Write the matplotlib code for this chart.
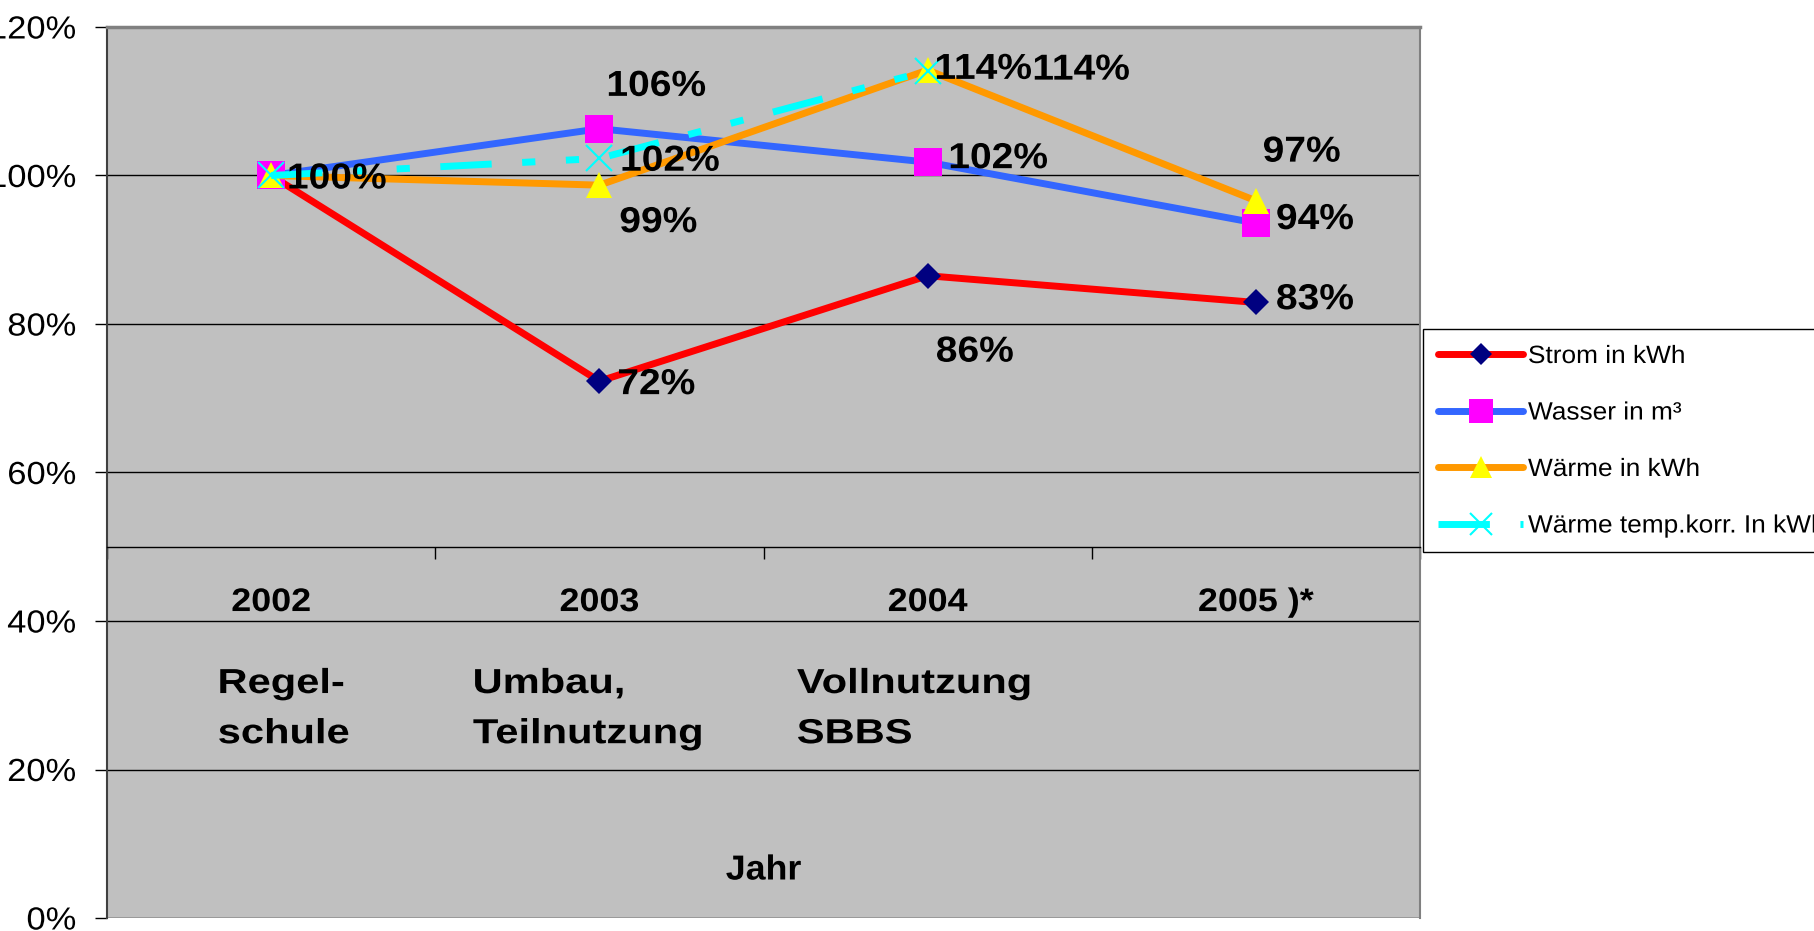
import numpy as np
import matplotlib
matplotlib.use('Agg')
import matplotlib.pyplot as plt
from matplotlib.patheffects import AbstractPathEffect
from matplotlib.transforms import Affine2D

# ---------------- data ----------------
years = ['2002', '2003', '2004', '2005 )*']
phases = ['Regel-\nschule', 'Umbau,\nTeilnutzung', 'Vollnutzung\nSBBS', '']
strom = [100, 72.3, 86.5, 82.9]
wasser = [100, 106.3, 101.8, 93.6]
waerme = [100, 98.7, 114.2, 96.6]
waerme_korr = [100, 102.3, 114.1, np.nan]
series_names = ['Strom in kWh', 'Wasser in m³', 'Wärme in kWh', 'Wärme temp.korr. In kWh']
y_ticks = [0, 20, 40, 60, 80, 100, 120]
x_title = 'Jahr'


# --------- helper: widen glyph runs (mimics the wide character spacing) ---------
class Stretch(AbstractPathEffect):
    def __init__(self, sx, anchor='left'):
        super().__init__()
        self.sx = sx
        self.anchor = anchor

    def draw_path(self, renderer, gc, tpath, affine, rgbFace=None):
        ext = tpath.get_extents()
        if self.anchor == 'left':
            cx = ext.x0
        elif self.anchor == 'right':
            cx = ext.x1
        else:
            cx = 0.5 * (ext.x0 + ext.x1)
        t = Affine2D().translate(-cx, 0).scale(self.sx, 1).translate(cx, 0) + affine
        renderer.draw_path(gc, tpath, t, rgbFace)


# ---------------- style ----------------
plt.rcParams['font.family'] = ['Liberation Sans', 'DejaVu Sans']
plt.rcParams['lines.scale_dashes'] = False

W, H = 1814, 931
fig = plt.figure(figsize=(W / 100, H / 100), dpi=100)
ax = fig.add_axes([107 / W, 1 - 918 / H, (1420 - 107) / W, (918 - 27) / H])
ax.set_facecolor('#C0C0C0')

x = np.arange(len(years))
ax.set_xlim(-0.5, len(years) - 0.5)
ax.set_ylim(0, 120)

series = [strom, wasser, waerme, waerme_korr]
styles = [
    dict(color='#FF0000', marker='D', mfc='#000080', mec='#000080', ms=13.5, mew=0),
    dict(color='#3366FF', marker='s', mfc='#FF00FF', mec='#FF00FF', ms=20, mew=0),
    dict(color='#FF9900', marker='^', mfc='#FFFF00', mec='#FFFF00', ms=19, mew=0),
    dict(color='#00FFFF', marker='x', mfc='#00FFFF', mec='#00FFFF', ms=18.5, mew=1.5,
         dashes=(37, 22, 9.5, 22, 9.5, 22)),
]
lines = []
for vals, st, name in zip(series, styles, series_names):
    ln, = ax.plot(x, vals, lw=5, solid_capstyle='round', solid_joinstyle='round',
                  label=name, zorder=3, **st)
    lines.append(ln)

# data labels: (dx_pt, dy_pt, ha) offsets relative to the point
label_offsets = [
    [(11.5, 0, 'left'), (13, 0, 'left'), (34, -52.5, 'center'), (14.5, 4.5, 'left')],
    [None, (41, 33, 'center'), (15, 5, 'left'), (14.5, 5, 'left')],
    [None, (42.5, -24.5, 'center'), (5, 3, 'left'), (33, 37.5, 'center')],
    [None, (15, 0.5, 'left'), (75.5, 3, 'left'), None],
]
for vals, offs in zip(series, label_offsets):
    for xi, v, off in zip(x, vals, offs):
        if off is None or np.isnan(v):
            continue
        dx, dy, ha = off
        ax.annotate(f'{v:.0f}%', (xi, v), xytext=(dx, dy - 2.5), textcoords='offset points',
                    ha=ha, va='center', fontsize=26, fontweight='bold', color='black', zorder=5,
                    path_effects=[Stretch(1.08, ha)])

# grid & spines
ax.set_yticks(y_ticks)
ax.set_yticklabels([f'{v}%' for v in y_ticks])
ax.yaxis.grid(True, color='black', lw=1)
ax.set_axisbelow(True)
ax.tick_params(axis='y', length=8.6, width=1, color='black', pad=13.5, labelsize=23)
for t in ax.get_yticklabels():
    t.set_path_effects([Stretch(1.08, 'right')])

ax.spines['left'].set_color('#404040')
ax.spines['left'].set_linewidth(1.5)
ax.spines['top'].set_color('#808080')
ax.spines['top'].set_linewidth(2.5)
ax.spines['right'].set_color('#808080')
ax.spines['right'].set_linewidth(1.5)
ax.spines['bottom'].set_position(('data', 50))
ax.spines['bottom'].set_color('black')
ax.spines['bottom'].set_linewidth(1)

ax.set_xticks(np.arange(-0.5, len(years), 1))
ax.set_xticklabels([])
ax.set_xticks(x, minor=True)
ax.set_xticklabels(years, minor=True, fontsize=23.5, fontweight='bold')
ax.tick_params(axis='x', which='major', length=8.6, width=1, direction='out', color='black')
ax.tick_params(axis='x', which='minor', length=0, pad=29)
for t in ax.get_xticklabels(minor=True):
    t.set_path_effects([Stretch(1.1, 'center')])

phase_dx = [-0.162, -0.385, -0.398, 0]
for xi, ph, d in zip(x, phases, phase_dx):
    if ph:
        ax.text(xi + d, 33.8, ph, ha='left', va='top', fontsize=25, fontweight='bold',
                linespacing=1.66, multialignment='left',
                path_effects=[Stretch(1.2, 'left')])

ax.text(0.5, (918 - 870) / (918 - 27), x_title, transform=ax.transAxes, ha='center',
        va='center', fontsize=25, fontweight='bold', path_effects=[Stretch(1.03, 'center')])

leg = fig.legend(lines, series_names, loc='upper left', bbox_to_anchor=(1423 / W, 1 - 329 / H),
                 bbox_transform=fig.transFigure, borderaxespad=0, frameon=True, fancybox=False,
                 edgecolor='black', facecolor='white', framealpha=1, prop={'size': 18},
                 handlelength=3.4, handletextpad=0.2, labelspacing=1.3, borderpad=0.6,
                 markerscale=0.85)
leg.get_frame().set_linewidth(1)
for t in leg.get_texts():
    t.set_path_effects([Stretch(1.05, 'left')])

fig.savefig('out.png', dpi=100)
